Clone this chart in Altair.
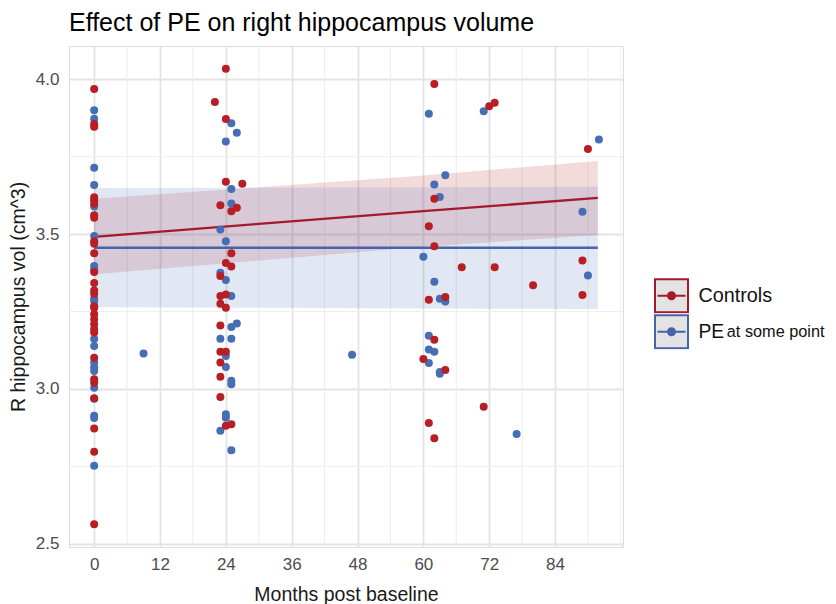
import altair as alt
import pandas as pd

# ---------------- data ----------------
groups = ["Controls", "PE at some point"]
point_colors = ["#B71F24", "#466EB4"]
line_colors = ["#A5192C", "#4664AA"]

ctrl_months = [0] * 29 + [
    24, 22, 24, 24, 27, 23, 26, 25, 25, 24, 25, 23, 23, 24, 23, 24, 23, 23, 24, 23, 23, 23, 24, 25,
    62, 72, 73, 62, 61, 62, 67, 73, 61, 64, 62, 60, 64, 71, 61, 62, 90, 89, 80, 89,
]
ctrl_vol = [
    3.969, 3.856, 3.847, 3.619, 3.609, 3.598, 3.561, 3.553, 3.477, 3.469, 3.438, 3.378, 3.342, 3.318,
    3.307, 3.267, 3.262, 3.241, 3.225, 3.209, 3.193, 3.182, 3.101, 3.031, 3.020, 2.970, 2.872, 2.797, 2.563,
    4.034, 3.927, 3.872, 3.669, 3.663, 3.593, 3.585, 3.574, 3.438, 3.407, 3.395, 3.365, 3.300, 3.305,
    3.275, 3.262, 3.205, 3.120, 3.120, 3.085, 3.039, 2.974, 2.881, 2.886,
    3.985, 3.913, 3.924, 3.614, 3.525, 3.461, 3.393, 3.393, 3.288, 3.297, 3.159, 3.097, 3.061, 2.942,
    2.890, 2.841, 3.775, 3.415, 3.335, 3.303,
]

pe_months = [0] * 20 + [9] + [
    25, 26, 24, 25, 25, 23, 24, 23, 24, 25, 25, 26, 23, 25, 24, 24, 25, 25, 24, 24, 23, 25,
] + [47] + [
    61, 71, 64, 62, 63, 60, 62, 63, 64, 61, 61, 62, 61, 63, 63, 77, 92, 89, 90,
]
pe_vol = [
    3.900, 3.873, 3.714, 3.659, 3.589, 3.494, 3.397, 3.386, 3.292, 3.284, 3.161, 3.139, 3.085, 3.070,
    3.058, 3.004, 2.968, 2.913, 2.906, 2.752,
    3.114,
    3.858, 3.827, 3.799, 3.646, 3.599, 3.515, 3.477, 3.375, 3.352, 3.300, 3.200, 3.211, 3.162, 3.162,
    3.106, 3.071, 3.026, 3.015, 2.918, 2.907, 2.865, 2.802,
    3.110,
    3.889, 3.897, 3.690, 3.660, 3.620, 3.427, 3.346, 3.291, 3.282, 3.172, 3.127, 3.120, 3.084, 3.055,
    3.049, 2.854, 3.806, 3.572, 3.366,
]

fit_months = [0, 30, 60, 91.8]
ctrl_fit = [3.491, 3.533, 3.574, 3.617]
ctrl_lo = [3.370, 3.415, 3.459, 3.497]
ctrl_hi = [3.614, 3.651, 3.689, 3.736]
pe_fit = [3.456, 3.456, 3.456, 3.456]
pe_lo = [3.264, 3.262, 3.260, 3.258]
pe_hi = [3.649, 3.650, 3.651, 3.653]

x_breaks = [0, 12, 24, 36, 48, 60, 72, 84]
x_minor = [6, 18, 30, 42, 54, 66, 78, 90, 96]
y_breaks = [2.5, 3.0, 3.5, 4.0]
y_minor = [2.75, 3.25, 3.75]

# ---------------- tables ----------------
points = pd.DataFrame({
    "month": pe_months + ctrl_months,
    "vol": pe_vol + ctrl_vol,
    "group": [groups[1]] * len(pe_months) + [groups[0]] * len(ctrl_months),
})
fits = pd.DataFrame({
    "month": fit_months + fit_months,
    "fit": ctrl_fit + pe_fit,
    "lo": ctrl_lo + pe_lo,
    "hi": ctrl_hi + pe_hi,
    "grp": [groups[0]] * len(fit_months) + [groups[1]] * len(fit_months),
})

FONT = "Liberation Sans"
xs = alt.Scale(domain=[-4.59, 96.39], nice=False, zero=False)
ys = alt.Scale(domain=[2.4894, 4.1076], nice=False, zero=False)

x_axis = alt.Axis(values=x_breaks, title="Months post baseline", grid=True, gridColor="#e4e4e4",
                  gridWidth=1.8, domain=False, ticks=False, labelPadding=9, labelFontSize=17,
                  labelColor="#4d4d4d", labelFont=FONT, labelFlush=False, titleFont=FONT,
                  titleFontSize=19.5, titleFontWeight="normal", titleColor="#1a1a1a", titlePadding=13)
y_axis = alt.Axis(values=y_breaks, format=".1f", title="R hippocampus vol (cm^3)", grid=True,
                  gridColor="#e4e4e4", gridWidth=1.8, domain=False, ticks=False, labelPadding=10,
                  labelFontSize=17, labelColor="#4d4d4d", labelFont=FONT, labelFlush=False,
                  titleFont=FONT, titleFontSize=19.5, titleFontWeight="normal", titleColor="#1a1a1a",
                  titlePadding=7)

X = lambda f: alt.X(f, scale=xs, axis=x_axis)
Y = lambda f: alt.Y(f, scale=ys, axis=y_axis)

minor_x = alt.Chart(pd.DataFrame({"m": x_minor})).mark_rule(color="#eeeeee", strokeWidth=1.1).encode(
    x=X("m:Q"))
minor_y = alt.Chart(pd.DataFrame({"v": y_minor})).mark_rule(color="#eeeeee", strokeWidth=1.1).encode(
    y=Y("v:Q"))

# data-driven (sorted) domains on these scales, so their legends are not merged with the stroke one
band = alt.Chart(fits).mark_area(opacity=0.16).encode(
    x=X("month:Q"), y=Y("lo:Q"), y2="hi:Q",
    color=alt.Color("grp:N", scale=alt.Scale(range=point_colors), legend=None),
)

# legend key: grey box with coloured border, a line through it and a solid dot
key_path = ("M-1,-1H1V1H-1Z "
            "M-0.85,0H0.85 "
            "M0.061,0A0.061,0.061,0,1,1,-0.061,0A0.061,0.061,0,1,1,0.061,0Z "
            "M0.17,0A0.17,0.17,0,1,1,-0.17,0A0.17,0.17,0,1,1,0.17,0Z "
            "M0.215,0A0.215,0.215,0,1,1,-0.215,0A0.215,0.215,0,1,1,0.215,0Z")

LX, LY = 585, 232
key_legend = alt.Legend(
    title=None, orient="none", legendX=LX, legendY=LY, direction="vertical",
    symbolType=key_path, symbolSize=1089, symbolStrokeWidth=2, symbolFillColor="#e3e3e3",
    symbolOpacity=1, clipHeight=35.5, rowPadding=0, padding=0,
    labelFont=FONT, labelFontSize=16.3, labelColor="#111111", labelOffset=37.8,
    labelExpr="datum.label == 'Controls' ? '' : 'at some point'",
)
# second legend carrying only the larger-sized words ("Controls", "PE")
word_legend = alt.Legend(
    title=None, orient="none", legendX=LX, legendY=LY, direction="vertical",
    symbolType="square", symbolSize=1089, symbolStrokeWidth=2, symbolOpacity=0,
    clipHeight=35.5, rowPadding=0, padding=0,
    labelFont=FONT, labelFontSize=alt.ExprRef("datum.label == 'Controls' ? 19.8 : 19.3"),
    labelColor="#111111", labelOffset=9.5,
    labelExpr="datum.label == 'Controls' ? 'Controls' : 'PE'",
)

lines = alt.Chart(fits).mark_line(strokeWidth=2.3).encode(
    x=X("month:Q"), y=Y("fit:Q"),
    stroke=alt.Stroke("grp:N", scale=alt.Scale(domain=groups, range=line_colors), legend=key_legend),
)

dots = alt.Chart(points).mark_circle(size=64, opacity=1).encode(
    x=X("month:Q"), y=Y("vol:Q"),
    fill=alt.Fill("group:N", scale=alt.Scale(range=point_colors), legend=word_legend),
)

chart = alt.layer(minor_x, minor_y, band, lines, dots).properties(
    width=554, height=501, padding={"left": 0, "top": 3, "right": 0, "bottom": 0},
    title=alt.TitleParams("Effect of PE on right hippocampus volume", anchor="start", frame="group",
                          font=FONT, fontSize=25, fontWeight="normal", color="#000000", offset=9),
).configure_view(stroke=None).configure(background="white")

chart.save("out.html", embed_options={"renderer": "svg", "actions": False})
